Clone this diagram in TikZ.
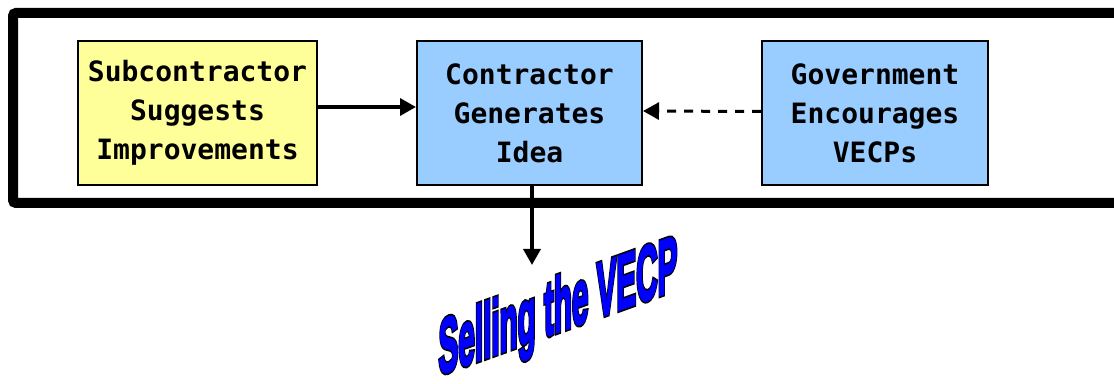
\documentclass[tikz,border=0pt]{standalone}
\usepackage{fontspec}
\newfontfamily\boxfont{DejaVu Sans Mono}
\newfontfamily\wordfont{Liberation Sans}
\usetikzlibrary{arrows.meta}
\definecolor{boxyellow}{HTML}{FFFF99}
\definecolor{boxblue}{HTML}{99CCFF}
\newcommand{\wordlayer}[3]{\special{pdf:literal direct #1 RG 2 Tr #2 w}#3\special{pdf:literal direct 0 Tr}}
\begin{document}
\begin{tikzpicture}[x=1pt,y=1pt,
  stepbox/.style={draw=black, line width=2pt, minimum height=144pt, align=center,
    inner sep=0pt, font=\boxfont\bfseries\fontsize{28}{39}\selectfont},
  conn/.style={line width=3.5pt, -{Triangle[length=16pt,width=17pt]}},
  wordart/.style={anchor=base, transform shape, xscale=0.38, inner sep=0pt, text=blue,
    font=\wordfont\bfseries\fontsize{78}{82}\selectfont}]
\useasboundingbox (0,0) rectangle (1114,383);
\draw[line width=10pt, rounded corners=3pt] (13,180) rectangle (1125,370);
\node[stepbox, fill=boxyellow, minimum width=239pt] (sub) at (197.5,270) {Subcontractor\\Suggests\\Improvements};
\node[stepbox, fill=boxblue, minimum width=225pt] (con) at (529.5,270) {Contractor\\Generates\\Idea};
\node[stepbox, fill=boxblue, minimum width=226pt] (gov) at (875,269.5) {Government\\Encourages\\VECPs};
\coordinate (sellend) at (532,118);
\draw[conn] ([yshift=6pt]sub.east) -- ([yshift=6pt]con.west);
\draw[conn, line width=3pt, dash pattern=on 9pt off 8pt] ([yshift=2pt]gov.west) -- ([yshift=2pt]con.east);
\draw[conn] (con.south -| sellend) -- (sellend);
\begin{scope}[shift={(558,51)}, yslant=0.36]
\node[wordart] (sellback) at (0,0) {\wordlayer{0 0 0}{5.5}{Selling the VECP}};
\node[wordart] (sell) at (0,0) {\wordlayer{0 0 1}{2}{Selling the VECP}};
\end{scope}
\end{tikzpicture}
\end{document}
